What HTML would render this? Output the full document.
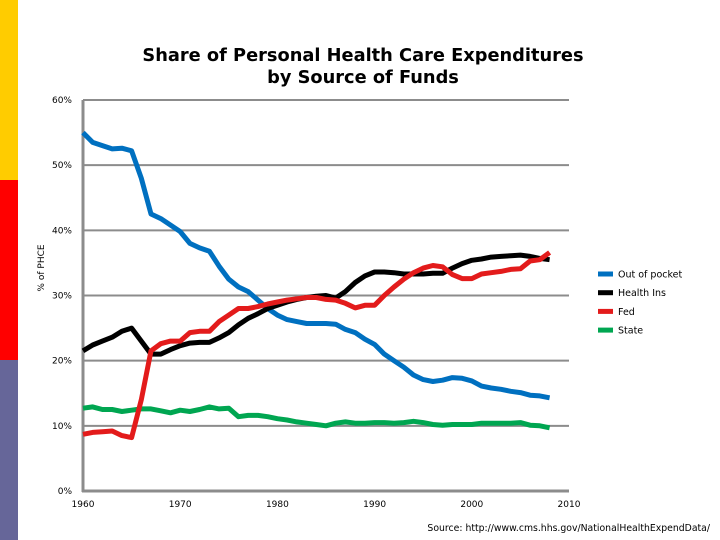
<!DOCTYPE html>
<html><head><meta charset="utf-8"><style>
body{margin:0;background:#fff}
svg{display:block;font-family:"DejaVu Sans","Liberation Sans",sans-serif}
</style></head><body>
<svg id="c" width="720" height="540">
<rect x="0" y="0" width="18" height="180" fill="#ffcc00"/>
<rect x="0" y="180" width="18" height="180" fill="#ff0000"/>
<rect x="0" y="360" width="18" height="180" fill="#666699"/>
<text x="363" y="61" text-anchor="middle" font-size="17.8" font-weight="bold">Share of Personal Health Care Expenditures</text>
<text x="363" y="83" text-anchor="middle" font-size="17.8" font-weight="bold">by Source of Funds</text>
<text transform="translate(44,268) rotate(-90)" text-anchor="middle" font-size="9">% of PHCE</text>
<text x="710" y="531" text-anchor="end" font-size="9.3">Source: http://www.cms.hhs.gov/NationalHealthExpendData/</text>
<g id="grid"></g><g id="series"></g><g id="legend"></g>
</svg>
<script>
const years=[];for(let y=1960;y<=2008;y++)years.push(y);
const outOfPocket=[55,53.5,53,52.5,52.6,52.2,48,42.5,41.8,40.8,39.8,38,37.3,36.8,34.5,32.5,31.3,30.6,29.3,28,27,26.3,26,25.7,25.7,25.7,25.6,24.8,24.3,23.3,22.5,21,20,19,17.8,17.1,16.8,17,17.4,17.3,16.9,16.1,15.8,15.6,15.3,15.1,14.7,14.6,14.3];
const healthIns=[21.5,22.4,23,23.6,24.5,25,23,21,21,21.7,22.3,22.7,22.8,22.8,23.5,24.3,25.5,26.5,27.2,28,28.5,29,29.4,29.7,29.9,30,29.6,30.6,32,33,33.6,33.6,33.5,33.3,33.3,33.3,33.4,33.4,34.2,34.9,35.4,35.6,35.9,36,36.1,36.2,36,35.7,35.5];
const fed=[8.7,9,9.1,9.2,8.5,8.2,14,21.5,22.6,23,23,24.3,24.5,24.5,26,27,28,28,28.3,28.7,29,29.3,29.5,29.7,29.7,29.4,29.3,28.8,28.1,28.5,28.5,30,31.3,32.5,33.5,34.2,34.6,34.4,33.2,32.6,32.6,33.3,33.5,33.7,34,34.1,35.3,35.5,36.6];
const stateFunds=[12.7,12.9,12.5,12.5,12.2,12.4,12.6,12.6,12.3,12,12.4,12.2,12.5,12.9,12.6,12.7,11.4,11.6,11.6,11.4,11.1,10.9,10.6,10.4,10.2,10,10.4,10.6,10.4,10.4,10.5,10.5,10.4,10.5,10.7,10.5,10.2,10.1,10.2,10.2,10.2,10.4,10.4,10.4,10.4,10.5,10.1,10,9.7];
const yTicks=[0,10,20,30,40,50,60];
const xTicks=[1960,1970,1980,1990,2000,2010];
const seriesNames=["Out of pocket","Health Ins","Fed","State"];
const NS="http://www.w3.org/2000/svg";
const X=v=>83+(v-1960)*(569-83)/50;
const Y=v=>491-v*(491-100)/60;
function mk(t,a,p){const e=document.createElementNS(NS,t);for(const k in a)e.setAttribute(k,a[k]);p.appendChild(e);return e;}
const grid=document.getElementById('grid');
yTicks.forEach(t=>{
 if(t>0){const l=mk('line',{x1:83,x2:569,y1:Y(t),y2:Y(t),stroke:'#8c8c8c','stroke-width':2},grid);
 
 }
 const tx=mk('text',{x:72,y:Y(t)+3,'text-anchor':'end','font-size':9},grid);tx.textContent=t+'%';
 
 
});
xTicks.forEach(t=>{
 const tx=mk('text',{x:X(t),y:507,'text-anchor':'middle','font-size':9},grid);tx.textContent=t;
 
 
});
const ax=mk('line',{x1:83,x2:83,y1:100,y2:492,stroke:'#8c8c8c','stroke-width':3},grid);


const bx=mk('line',{x1:82,x2:569,y1:491,y2:491,stroke:'#8c8c8c','stroke-width':3},grid);


const data=[outOfPocket,healthIns,fed,stateFunds];
const colors=['#0070c0','#000000','#e31b1b','#00a651'];
const order=[3,0,1,2];
const sg=document.getElementById('series');
order.forEach(i=>{
 const d=data[i].map((v,j)=>(j?'L':'M')+X(years[j]).toFixed(1)+','+Y(v).toFixed(1)).join('');
 const p=mk('path',{d:d,fill:'none',stroke:colors[i],'stroke-width':5,'stroke-linejoin':'round'},sg);
 
 
});
const lg=document.getElementById('legend');
seriesNames.forEach((n,i)=>{
 const y=274+i*18.7;
 const l=mk('line',{x1:598,x2:613,y1:y,y2:y,stroke:colors[i],'stroke-width':5},lg);
 
 
 const t=mk('text',{x:618,y:y+3.5,'font-size':9.5},lg);t.textContent=n;
 
 
});
</script>
</body></html>
